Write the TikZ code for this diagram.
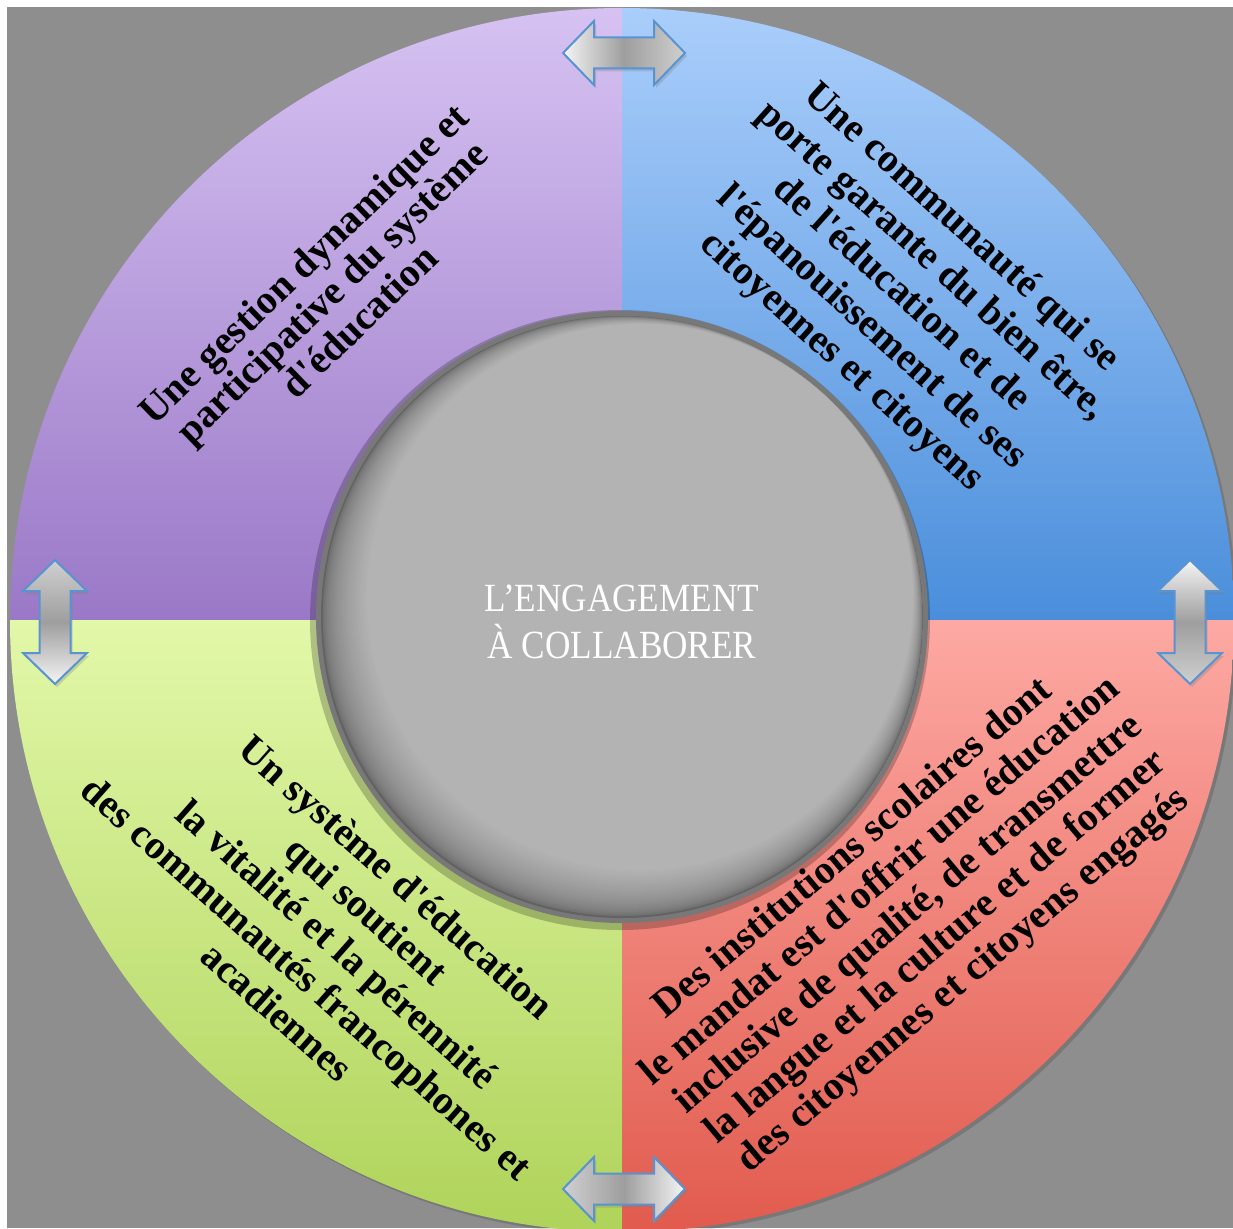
\documentclass[tikz,border=0pt]{standalone}
\usepackage{fontspec}
\setmainfont{Liberation Serif}
\newfontfamily\titlefont[FakeStretch=0.88]{Liberation Serif}
\font\quadfont="Liberation Serif/B" at 40pt
\usetikzlibrary{shadows}
\definecolor{bggray}{HTML}{8E8E8E}
\definecolor{purpleTop}{HTML}{D6C2F2}
\definecolor{purpleBot}{HTML}{9A78C7}
\definecolor{blueTop}{HTML}{AACEFB}
\definecolor{blueBot}{HTML}{4A8EDB}
\definecolor{greenTop}{HTML}{E2F8A9}
\definecolor{greenBot}{HTML}{AFD35A}
\definecolor{redTop}{HTML}{FDA9A3}
\definecolor{redBot}{HTML}{E15B4E}
\definecolor{rimgray}{HTML}{787878}
\definecolor{arrowblue}{HTML}{5A94D0}
\definecolor{silverA}{HTML}{F5F5F5}
\definecolor{silverB}{HTML}{9E9E9E}
\definecolor{silverC}{HTML}{D0D0D0}
\tikzset{
  quadtext/.style={align=center, text=black, inner sep=0pt},
  dblarrow/.style={draw=arrowblue, line width=2pt, line join=miter,
    drop shadow={opacity=0.3, shadow xshift=2pt, shadow yshift=-3pt}},
}
\begin{document}
\begin{tikzpicture}[x=1pt,y=-1pt]
\useasboundingbox (0,0) rectangle (1233,1228);
\fill[white] (0,0) rectangle (1233,1228);
\fill[bggray] (7,7) rectangle (1233,1228);
% outer ring shadow
\fill[black,opacity=.15] (625,623) circle[radius=612];
\begin{scope}
  \clip (622,620) circle[radius=612];
  \shade[top color=purpleTop,bottom color=purpleBot] (0,8) rectangle (622,620);
  \shade[top color=blueTop,bottom color=blueBot] (622,8) rectangle (1240,620);
  \shade[top color=greenTop,bottom color=greenBot] (0,620) rectangle (622,1232);
  \shade[top color=redTop,bottom color=redBot] (622,620) rectangle (1240,1232);
\end{scope}
% inner disk
\fill[black,opacity=.22] (620,620) circle[radius=310];
\fill[rimgray] (622,617) circle[radius=306];
\begin{scope}
  \clip (622,617) circle[radius=301];
  \foreach \i in {0,...,24} {
    \pgfmathsetmacro\tt{\i/24}
    \pgfmathsetmacro\pp{(98+81*sqrt(\tt))/2.55}
    \fill[white!\pp!black] (622+18*\tt, 617-20*\tt) circle[radius=301-28*\tt];
  }
\end{scope}
\node[text=white, align=center, font=\titlefont\fontsize{40}{47}\selectfont] (title) at (622,622) {L’ENGAGEMENT\\À COLLABORER};
% quadrant texts
\node[quadtext, rotate=44, font={\quadfont\baselineskip=40pt}] (tl) at (331,292)
  {Une gestion dynamique et\\participative du système\\d'éducation};
\node[quadtext, rotate=-42, font={\quadfont\baselineskip=45pt}] (tr) at (901,295)
  {Une communauté qui se\\porte garante du bien être,\\de l'éducation et de\\l'épanouissement de ses\\citoyennes et citoyens};
\node[quadtext, rotate=-41.5, font={\quadfont\baselineskip=45pt}] (bl) at (337,944)
  {Un système d'éducation\\qui soutient\\la vitalité et la pérennité\\des communautés francophones et\\acadiennes};
\node[quadtext, rotate=40, font={\quadfont\baselineskip=43pt}] (br) at (909,915)
  {Des institutions scolaires dont\\le mandat est d'offrir une éducation\\inclusive de qualité, de transmettre\\la langue et la culture et de former\\des citoyennes et citoyens engagés};
% double arrows
\path[dblarrow, left color=silverA, right color=silverC, middle color=silverB, shift={(624,53)}]
  (-61,0) -- (-30,-32) -- (-30,-15.5) -- (30,-15.5) -- (30,-32) -- (61,0) -- (30,32) -- (30,15.5) -- (-30,15.5) -- (-30,32) -- cycle;
\path[dblarrow, left color=silverC, right color=silverA, middle color=silverB, shift={(624,1189)}]
  (-61,0) -- (-30,-32) -- (-30,-15.5) -- (30,-15.5) -- (30,-32) -- (61,0) -- (30,32) -- (30,15.5) -- (-30,15.5) -- (-30,32) -- cycle;
\path[dblarrow, top color=silverC, bottom color=silverA, middle color=silverB, shift={(55,622)}]
  (0,-62) -- (32,-31) -- (15.5,-31) -- (15.5,31) -- (32,31) -- (0,62) -- (-32,31) -- (-15.5,31) -- (-15.5,-31) -- (-32,-31) -- cycle;
\path[dblarrow, top color=silverA, bottom color=silverC, middle color=silverB, shift={(1190,622)}]
  (0,-62) -- (32,-31) -- (15.5,-31) -- (15.5,31) -- (32,31) -- (0,62) -- (-32,31) -- (-15.5,31) -- (-15.5,-31) -- (-32,-31) -- cycle;
\end{tikzpicture}
\end{document}
